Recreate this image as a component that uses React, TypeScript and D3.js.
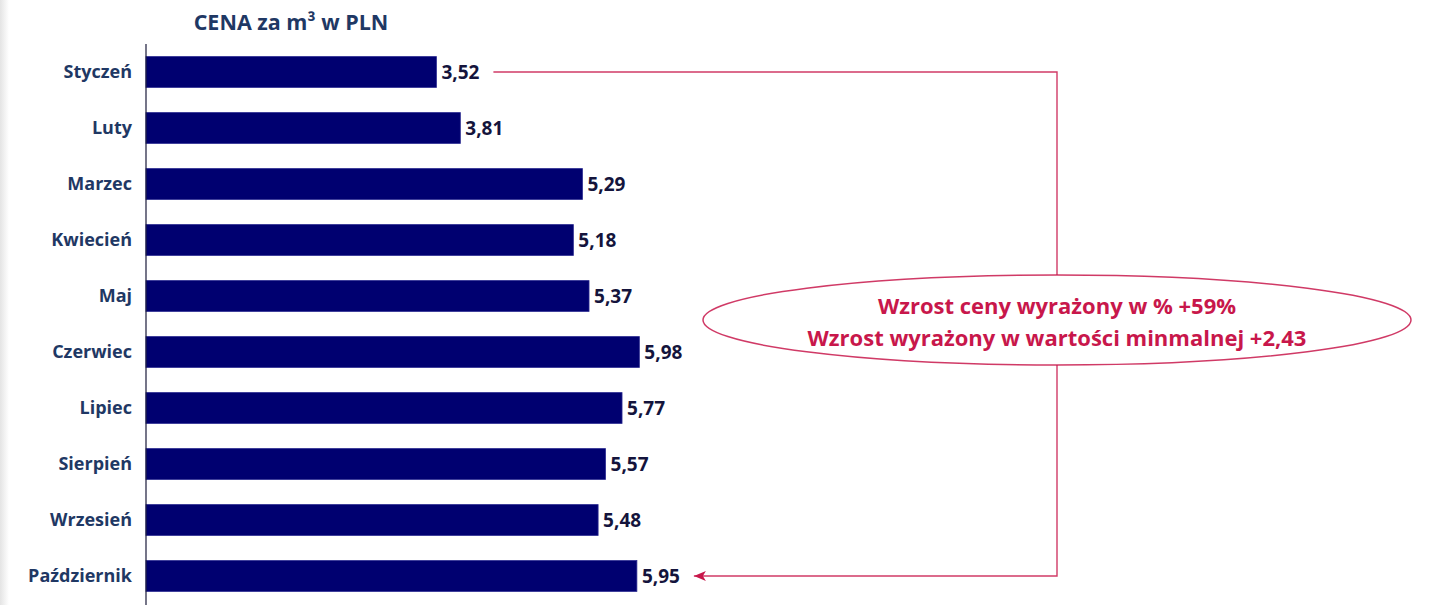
import React from "react";
import * as d3 from "d3";

const months = ["Styczeń", "Luty", "Marzec", "Kwiecień", "Maj", "Czerwiec", "Lipiec", "Sierpień", "Wrzesień", "Październik"];
const prices = [3.52, 3.81, 5.29, 5.18, 5.37, 5.98, 5.77, 5.57, 5.48, 5.95];
const valueLabels = ["3,52", "3,81", "5,29", "5,18", "5,37", "5,98", "5,77", "5,57", "5,48", "5,95"];
const title = "CENA za m³ w PLN";
const noteLines = ["Wzrost ceny wyrażony w % +59%", "Wzrost wyrażony w wartości minmalnej +2,43"];

const W = 1429;
const H = 605;
const FONT = "'Open Sans', Lato, sans-serif";
const NAVY = "#000070";
const LABEL = "#1f3864";
const RED = "#c8174b";

export default function App() {
  const x = d3.scaleLinear().domain([0, 6]).range([146, 146 + 6 * 82.5]);
  const y = d3.scaleBand<string>().domain(months).range([44, 604]).paddingInner(0.45).paddingOuter(0.225);
  const bh = y.bandwidth();
  const cy = (m: string) => (y(m) as number) + bh / 2;

  const first = months[0];
  const last = months[months.length - 1];
  const yTop = cy(first);
  const yBot = cy(last);
  const lineX = 1057;
  const startX = x(prices[0]) + 57;
  const endX = x(prices[prices.length - 1]) + 57;

  const ellCx = 1057;
  const ellCy = 320;

  return (
    <svg width={W} height={H} style={{ position: "absolute", left: 0, top: 0, background: "#fff" }}>
      <defs>
        <linearGradient id="edge" x1="0" x2="1" y1="0" y2="0">
          <stop offset="0" stopColor="#e4e4e4" />
          <stop offset="1" stopColor="#ffffff" />
        </linearGradient>
        <marker id="arr" viewBox="0 0 10 10" refX="10" refY="5" markerWidth="12" markerHeight="10" orient="auto-start-reverse" markerUnits="userSpaceOnUse" preserveAspectRatio="none">
          <path d="M0,0 L10,5 L0,10 L2.5,5 Z" fill={RED} />
        </marker>
      </defs>
      <rect x={0} y={0} width={9} height={H} fill="url(#edge)" />
      <text x={291} y={30} textAnchor="middle" fontFamily={FONT} fontWeight={700} fontSize={21.5} fill={LABEL}>
        {title}
      </text>
      {months.map((m, i) => (
        <g key={m}>
          <rect x={x(0)} y={y(m) as number} width={x(prices[i]) - x(0)} height={bh} fill={NAVY} stroke="#2a2a90" strokeWidth={0.8} />
          <text x={132} y={cy(m)} dy="0.35em" textAnchor="end" fontFamily={FONT} fontWeight={700} fontSize={18} fill={LABEL}>
            {m}
          </text>
          <text x={x(prices[i]) + 5} y={cy(m)} dy="0.36em" fontFamily={FONT} fontWeight={700} fontSize={19} fill="#14143c">
            {valueLabels[i]}
          </text>
        </g>
      ))}
      <line x1={x(0)} x2={x(0)} y1={44} y2={H} stroke="#1a1a3a" strokeWidth={1.2} />
      <path
        d={`M${startX},${yTop} H${lineX} V${yBot} H${endX}`}
        fill="none"
        stroke={RED}
        strokeWidth={1.4}
        strokeOpacity={0.85}
        markerEnd="url(#arr)"
      />
      <ellipse cx={ellCx} cy={ellCy} rx={354} ry={45} fill="#fff" stroke={RED} strokeWidth={1.5} strokeOpacity={0.85} />
      {noteLines.map((t, i) => (
        <text key={i} x={ellCx} y={ellCy - 6 + i * 32} textAnchor="middle" fontFamily={FONT} fontWeight={700} fontSize={22} fill={RED}>
          {t}
        </text>
      ))}
    </svg>
  );
}
